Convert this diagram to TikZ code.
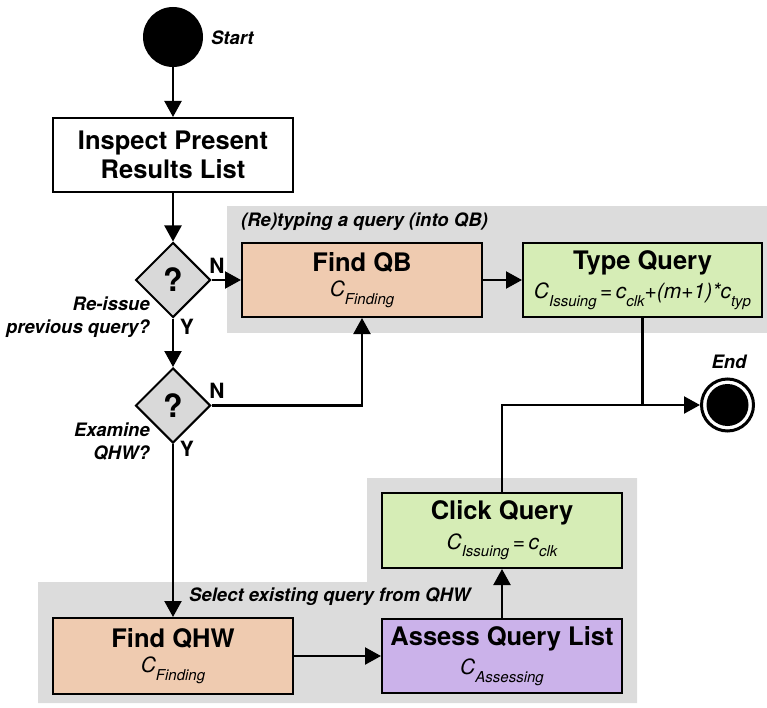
\documentclass[tikz,border=0pt]{standalone}
\usepackage{fontspec}
\setmainfont{TeX Gyre Heros}
\usetikzlibrary{shapes.geometric,arrows.meta}
\definecolor{peach}{HTML}{EFCBB0}
\definecolor{lgreen}{HTML}{D6EDB6}
\definecolor{lpurple}{HTML}{CBB2EA}
\definecolor{greyreg}{HTML}{DCDCDC}
\definecolor{diagrey}{HTML}{D9D9D9}
\newcommand{\csub}[1]{\raisebox{-7.5pt}{\fontsize{15}{15}\selectfont\itshape #1}}
\newcommand{\ttl}[1]{{\fontsize{25.5}{27}\selectfont\bfseries #1}}
\newcommand{\cst}[1]{{\fontsize{21}{22}\selectfont\itshape #1}}
\tikzset{
  procbox/.style={draw, line width=2pt, rectangle, minimum width=240pt, minimum height=74pt, inner sep=0pt, align=center},
  decbox/.style={draw, line width=2pt, diamond, aspect=1, minimum size=75pt, inner sep=0pt, fill=diagrey, font=\fontsize{32}{32}\selectfont\bfseries},
  arr/.style={line width=2.2pt, -{Triangle[length=16pt,width=17pt]}},
  plain/.style={line width=2.2pt},
  lbl/.style={inner sep=0pt, font=\fontsize{18.5}{23}\selectfont\bfseries\itshape},
  yn/.style={inner sep=0pt, font=\fontsize{21}{21}\selectfont\bfseries},
}
\begin{document}
\begin{tikzpicture}[x=1pt,y=-1pt]
\useasboundingbox (0,0) rectangle (767,708);
% grey group regions
\fill[greyreg] (227,206) rectangle (767,333);
\fill[greyreg] (38,582) -- (367,582) -- (367,478) -- (637,478) -- (637,703) -- (38,703) -- cycle;
% nodes
\node[circle, fill=black, minimum size=60pt, inner sep=0pt] (start) at (173,37) {};
\node[lbl, anchor=west] (startlbl) at (211,38) {Start};
\node[procbox, fill=white, font=\fontsize{25.5}{29}\selectfont\bfseries] (inspect) at (173,155) {Inspect Present\\Results List};
\node[decbox] (d1) at (173,280) {?};
\node[decbox] (d2) at (173,405.5) {?};
\node[procbox, fill=peach] (findqb) at (362,280) {\ttl{Find QB}\\[7pt]\cst{C\csub{Finding}}};
\node[procbox, fill=lgreen, minimum width=239pt] (typeq) at (642.5,280) {\ttl{Type Query}\\[7pt]\cst{C\csub{Issuing}\,=\,c\csub{clk}+(m+1)*c\csub{typ}}};
\node[procbox, fill=lgreen, minimum height=75pt] (click) at (502,530.5) {\ttl{Click Query}\\[7pt]\cst{C\csub{Issuing}\,=\,c\csub{clk}}};
\node[procbox, fill=lpurple] (assess) at (502,656) {\ttl{Assess Query List}\\[7pt]\cst{C\csub{Assessing}}};
\node[procbox, fill=peach, minimum height=76pt] (findqhw) at (173,656) {\ttl{Find QHW}\\[7pt]\cst{C\csub{Finding}}};
\node[circle, draw, line width=3pt, fill=white, minimum size=52pt, inner sep=0pt] (endn) at (727.5,405) {};
\fill[black] (endn.center) circle (21pt);
\node[lbl] (endlbl) at (729,362) {End};
% group labels
\node[lbl, anchor=west] (retyp) at (241,222) {(Re)typing a query (into QB)};
\node[lbl, anchor=west] (selx) at (189,597) {Select existing query from QHW};
% decision labels
\node[lbl, anchor=east, align=right] (q1) at (150,317) {Re-issue\\previous query?};
\node[lbl, anchor=east, align=right] (q2) at (150,442) {Examine\\QHW?};
\node[yn] (n1) at (217,266) {N};
\node[yn] (y1) at (187,327) {Y};
\node[yn] (n2) at (217,391) {N};
\node[yn] (y2) at (187,449) {Y};
% connectors
\draw[arr] (start) -- (inspect);
\draw[arr] (inspect) -- (d1);
\draw[arr] (d1.east) -- (findqb.west);
\draw[arr] (d1.south) -- (d2.north);
\draw[arr] (d2.east) -| (findqb.south);
\draw[arr] (d2.south) -- (findqhw.north);
\draw[arr] (findqb) -- (typeq);
\draw[arr] (findqhw) -- (assess);
\draw[arr] (assess) -- (click);
\draw[plain] (typeq.south) -- (typeq.south |- endn.west);
\draw[arr] (click.north) |- (endn.west);
\end{tikzpicture}
\end{document}
